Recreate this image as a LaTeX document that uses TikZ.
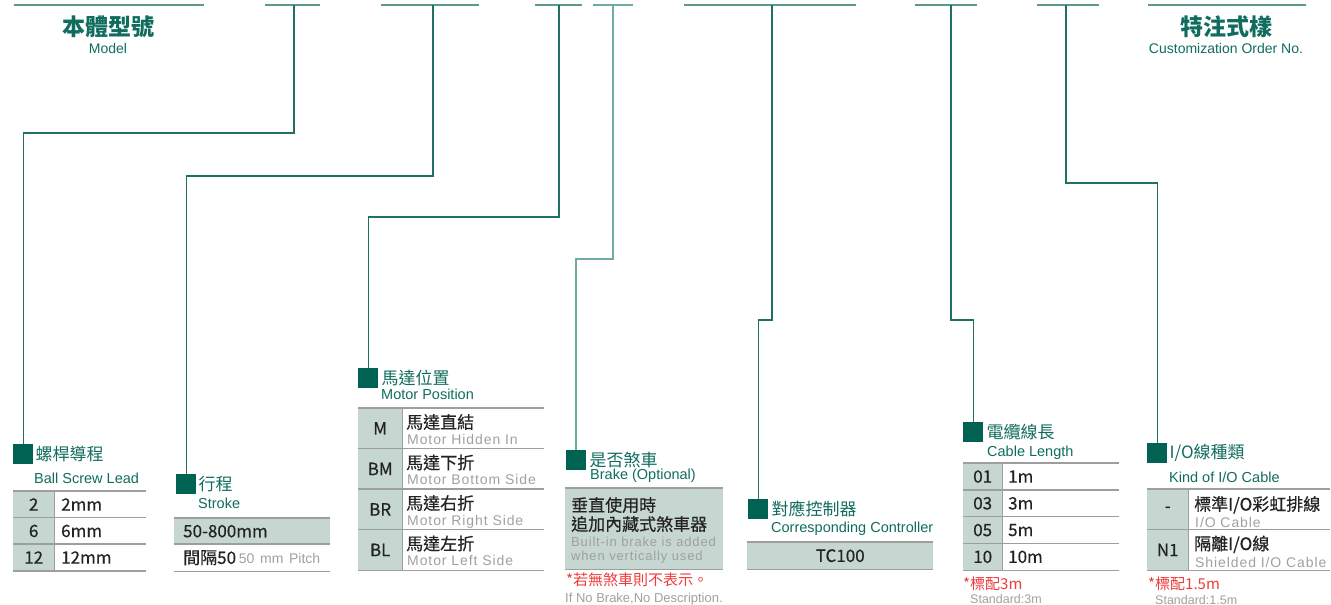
\documentclass[tikz,border=0pt]{standalone}
\usepackage{fontspec}
\setmainfont{Liberation Sans}
\newfontfamily\cjk{Noto Sans CJK TC}
\newfontfamily\cjkm{Noto Sans CJK TC}[FakeBold=0.5]
\newfontfamily\spaced{Liberation Sans}[LetterSpace=6.5]
\usetikzlibrary{%
  positioning% wg. " of "
}

\definecolor{markc}{RGB}{0,98,82}
\definecolor{headc}{RGB}{16,108,94}
\definecolor{keyc}{RGB}{198,214,208}
\definecolor{leadc}{RGB}{32,112,99}
\definecolor{barc}{RGB}{92,152,142}
\definecolor{lightc}{RGB}{112,170,164}
\definecolor{rulec}{RGB}{158,158,158}
\definecolor{inkc}{RGB}{35,35,35}
\definecolor{subc}{RGB}{160,160,160}
\definecolor{redc}{RGB}{238,58,58}

\tikzset{
    bar/.style={draw=barc, line width=1.7pt},
    lead/.style={draw=leadc, line width=1.3pt},
    lead light/.style={draw=lightc, line width=1.5pt},
    markbox/.style={fill=markc, minimum size=20pt, inner sep=0pt, anchor=north west},
    head/.style={text=headc, inner sep=0pt, font=\cjk\fontsize{17}{17}\selectfont},
    sub/.style={text=headc, inner sep=0pt, anchor=base west, font=\fontsize{14.5}{15}\selectfont},
    title/.style={text=headc, inner sep=0pt, anchor=base, font=\cjk\bfseries\fontsize{23}{23}\selectfont},
    titlesub/.style={text=headc, inner sep=0pt, anchor=base, font=\fontsize{14}{14}\selectfont},
    cell/.style={inner sep=0pt, anchor=north west, text=inkc, font=\cjkm\fontsize{17}{17}\selectfont},
    keycell/.style={cell, fill=keyc, align=center},
    valcell/.style={cell, align=left},
    cn/.style={inner sep=0pt, anchor=base west, text=inkc, font=\cjkm\fontsize{17}{17}\selectfont},
    en/.style={inner sep=0pt, anchor=base west, text=subc, font=\spaced\fontsize{14}{14}\selectfont},
    rule/.style={draw=rulec, line width=1.5pt},
    rednote/.style={inner sep=0pt, anchor=base west, text=redc, font=\cjk\fontsize{15}{15}\selectfont},
    graynote/.style={inner sep=0pt, anchor=base west, text=subc, font=\fontsize{12.5}{13}\selectfont}
}

\begin{document}
\begin{tikzpicture}[x=1pt,y=-1pt]
    \useasboundingbox (0,0) rectangle (1331,605);

    %top bars
    \draw[bar] (14,5) -- (204,5);
    \draw[bar] (265,5) -- (320,5);
    \draw[bar] (381,5) -- (479,5);
    \draw[bar] (535,5) -- (582,5);
    \draw[lead light] (593,5) -- (633,5);
    \draw[bar] (684,5) -- (856,5);
    \draw[bar] (915,5) -- (977,5);
    \draw[bar] (1037,5) -- (1099,5);
    \draw[bar] (1148,5) -- (1306,5);
    \coordinate (t_1) at (294,5);
    \coordinate (t_2) at (433,5);
    \coordinate (t_3) at (559,5);
    \coordinate (t_4) at (613,5);
    \coordinate (t_5) at (772,5);
    \coordinate (t_6) at (951,5);
    \coordinate (t_7) at (1066,5);

    %model and custom order
    \node[title] (model) at (108,35) {本體型號};
    \node[titlesub] (model_en) at (108,53) {Model};
    \node[title] (custom) at (1226,35) {特注式樣};
    \node[titlesub] (custom_en) at (1226,53) {Customization Order No.};

    %marks
    \node[markbox] (m_1) at (13,444) {};
    \node[markbox] (m_2) at (176,474) {};
    \node[markbox] (m_3) at (358,368) {};
    \node[markbox] (m_4) at (566,450) {};
    \node[markbox] (m_5) at (748,499) {};
    \node[markbox] (m_6) at (963,422) {};
    \node[markbox] (m_7) at (1147,443) {};

    %headings
    \node[head] (h_1) [right=2pt of m_1] {螺桿導程};
    \node[head] (h_2) [right=2pt of m_2] {行程};
    \node[head] (h_3) [right=3pt of m_3] {馬達位置};
    \node[head] (h_4) [right=3pt of m_4] {是否煞車};
    \node[head] (h_5) [right=3pt of m_5] {對應控制器};
    \node[head] (h_6) [right=3pt of m_6] {電纜線長};
    \node[head] (h_7) [right=2pt of m_7] {I/O線種類};
    \node[sub] (e_1) at (34,483) {Ball Screw Lead};
    \node[sub] (e_2) at (198,508) {Stroke};
    \node[sub] (e_3) at (381,399) {Motor Position};
    \node[sub] (e_4) at (590,479) {Brake (Optional)};
    \node[sub] (e_5) at (771,532) {Corresponding Controller};
    \node[sub] (e_6) at (987,456) {Cable Length};
    \node[sub] (e_7) at (1169,482) {Kind of I/O Cable};

    %leads
    \draw[lead] (t_1) -- ++(0,128) -| (m_1.north);
    \draw[lead] (t_2) -- ++(0,171) -| (m_2.north);
    \draw[lead] (t_3) -- ++(0,212) -| (m_3.north);
    \draw[lead light] (t_4) -- ++(0,254) -| (m_4.north);
    \draw[lead] (t_5) -- ++(0,315) -| (m_5.north);
    \draw[lead] (t_6) -- ++(0,315) -| (m_6.north);
    \draw[lead] (t_7) -- ++(0,178) -| (m_7.north);

    %ball screw lead table
    \node[keycell, minimum width=41pt, minimum height=26.5pt] (ka_1) at (13,491) {2};
    \node[keycell, minimum width=41pt, minimum height=26.5pt] (ka_2) at (13,517.5) {6};
    \node[keycell, minimum width=41pt, minimum height=26.5pt] (ka_3) at (13,544) {12};
    \node[valcell, text width=78pt, inner xsep=7pt, minimum height=26.5pt] (va_1) at (54,491) {2mm};
    \node[valcell, text width=78pt, inner xsep=7pt, minimum height=26.5pt] (va_2) at (54,517.5) {6mm};
    \node[valcell, text width=78pt, inner xsep=7pt, minimum height=26.5pt] (va_3) at (54,544) {12mm};
    \draw[rule] (ka_1.north west) -- (va_1.north east);
    \draw[rule] (ka_2.north west) -- (va_2.north east);
    \draw[rule] (ka_3.north west) -- (va_3.north east);
    \draw[rule] (ka_3.south west) -- (va_3.south east);
    \draw[rule] (ka_1.north east) -- (ka_3.south east);

    %stroke table
    \node[cell, fill=keyc, text width=138pt, inner xsep=9pt, minimum height=26pt, align=left] (s_1) at (174,518) {50-800mm};
    \node[cell, text width=138pt, inner xsep=9pt, minimum height=27pt, align=left] (s_2) at (174,544)
        {間隔50\,{\rmfamily\color{subc}\fontsize{14}{14}\selectfont 50 mm Pitch}};
    \draw[rule] (s_1.north west) -- (s_1.north east);
    \draw[rule] (s_2.north west) -- (s_2.north east);
    \draw[rule] (s_2.south west) -- (s_2.south east);

    %motor position table
    \node[keycell, minimum width=44pt, minimum height=40.5pt] (km_1) at (358,408) {M};
    \node[keycell, minimum width=44pt, minimum height=40.5pt] (km_2) at (358,448.5) {BM};
    \node[keycell, minimum width=44pt, minimum height=40.5pt] (km_3) at (358,489) {BR};
    \node[keycell, minimum width=44pt, minimum height=40.5pt] (km_4) at (358,529.5) {BL};
    \node[valcell, minimum width=142pt, minimum height=40.5pt] (vm_1) at (402,408) {};
    \node[valcell, minimum width=142pt, minimum height=40.5pt] (vm_2) at (402,448.5) {};
    \node[valcell, minimum width=142pt, minimum height=40.5pt] (vm_3) at (402,489) {};
    \node[valcell, minimum width=142pt, minimum height=40.5pt] (vm_4) at (402,529.5) {};
    \node[cn] (cm_1) at ([xshift=4pt,yshift=-20.5pt]vm_1.north west) {馬達直結};
    \node[en] (em_1) at ([xshift=5pt,yshift=-36pt]vm_1.north west) {Motor Hidden In};
    \node[cn] (cm_2) at ([xshift=4pt,yshift=-20.5pt]vm_2.north west) {馬達下折};
    \node[en] (em_2) at ([xshift=5pt,yshift=-36pt]vm_2.north west) {Motor Bottom Side};
    \node[cn] (cm_3) at ([xshift=4pt,yshift=-20.5pt]vm_3.north west) {馬達右折};
    \node[en] (em_3) at ([xshift=5pt,yshift=-36pt]vm_3.north west) {Motor Right Side};
    \node[cn] (cm_4) at ([xshift=4pt,yshift=-20.5pt]vm_4.north west) {馬達左折};
    \node[en] (em_4) at ([xshift=5pt,yshift=-36pt]vm_4.north west) {Motor Left Side};
    \draw[rule] (km_1.north west) -- (vm_1.north east);
    \draw[rule] (km_2.north west) -- (vm_2.north east);
    \draw[rule] (km_3.north west) -- (vm_3.north east);
    \draw[rule] (km_4.north west) -- (vm_4.north east);
    \draw[rule] (km_4.south west) -- (vm_4.south east);
    \draw[rule] (km_1.north east) -- (km_4.south east);

    %brake table
    \node[cell, fill=keyc, minimum width=158pt, minimum height=81pt] (bk) at (565,488) {};
    \node[cn] (cb_1) at ([xshift=6pt,yshift=-23.5pt]bk.north west) {垂直使用時};
    \node[cn] (cb_2) at ([xshift=6pt,yshift=-42.5pt]bk.north west) {追加內藏式煞車器};
    \node[en, font=\spaced\fontsize{13}{13}\selectfont] (eb_1) at ([xshift=6pt,yshift=-58.5pt]bk.north west) {Built-in brake is added};
    \node[en, font=\spaced\fontsize{13}{13}\selectfont] (eb_2) at ([xshift=6pt,yshift=-72pt]bk.north west) {when vertically used};
    \draw[rule] (bk.north west) -- (bk.north east);
    \draw[rule] (bk.south west) -- (bk.south east);
    \node[rednote] (rb) at (566,585.5) {*若無煞車則不表示。};
    \node[graynote, font=\fontsize{13}{13}\selectfont] (gb) at (565,602.5) {If No Brake,No Description.};

    %controller table
    \node[keycell, minimum width=186pt, minimum height=27pt] (tc) at (747,542) {TC100};
    \draw[rule] (tc.north west) -- (tc.north east);
    \draw[rule] (tc.south west) -- (tc.south east);

    %cable length table
    \node[keycell, minimum width=39pt, minimum height=26.75pt] (kc_1) at (963,463) {01};
    \node[keycell, minimum width=39pt, minimum height=26.75pt] (kc_2) at (963,489.75) {03};
    \node[keycell, minimum width=39pt, minimum height=26.75pt] (kc_3) at (963,516.5) {05};
    \node[keycell, minimum width=39pt, minimum height=26.75pt] (kc_4) at (963,543.25) {10};
    \node[valcell, text width=105pt, inner xsep=6pt, minimum height=26.75pt] (vc_1) at (1002,463) {1m};
    \node[valcell, text width=105pt, inner xsep=6pt, minimum height=26.75pt] (vc_2) at (1002,489.75) {3m};
    \node[valcell, text width=105pt, inner xsep=6pt, minimum height=26.75pt] (vc_3) at (1002,516.5) {5m};
    \node[valcell, text width=105pt, inner xsep=6pt, minimum height=26.75pt] (vc_4) at (1002,543.25) {10m};
    \draw[rule] (kc_1.north west) -- (vc_1.north east);
    \draw[rule] (kc_2.north west) -- (vc_2.north east);
    \draw[rule] (kc_3.north west) -- (vc_3.north east);
    \draw[rule] (kc_4.north west) -- (vc_4.north east);
    \draw[rule] (kc_4.south west) -- (vc_4.south east);
    \draw[rule] (kc_1.north east) -- (kc_4.south east);
    \node[rednote] (rc) at (963,589) {*標配3m};
    \node[graynote] (gc) at (970,603.5) {Standard:3m};

    %i/o cable table
    \node[keycell, minimum width=41pt, minimum height=40.5pt] (ki_1) at (1147,489) {-};
    \node[keycell, minimum width=41pt, minimum height=40.5pt] (ki_2) at (1147,529.5) {N1};
    \node[valcell, minimum width=142pt, minimum height=40.5pt] (vi_1) at (1188,489) {};
    \node[valcell, minimum width=142pt, minimum height=40.5pt] (vi_2) at (1188,529.5) {};
    \node[cn] (ci_1) at ([xshift=6pt,yshift=-21.5pt]vi_1.north west) {標準I/O彩虹排線};
    \node[en] (ei_1) at ([xshift=7pt,yshift=-38pt]vi_1.north west) {I/O Cable};
    \node[cn] (ci_2) at ([xshift=6pt,yshift=-20.5pt]vi_2.north west) {隔離I/O線};
    \node[en] (ei_2) at ([xshift=7pt,yshift=-37.5pt]vi_2.north west) {Shielded I/O Cable};
    \draw[rule] (ki_1.north west) -- (vi_1.north east);
    \draw[rule] (ki_2.north west) -- (vi_2.north east);
    \draw[rule] (ki_2.south west) -- (vi_2.south east);
    \draw[rule] (ki_1.north east) -- (ki_2.south east);
    \node[rednote] (ri) at (1148,589) {*標配1.5m};
    \node[graynote] (gi) at (1155,604) {Standard:1.5m};
\end{tikzpicture}
\end{document}
